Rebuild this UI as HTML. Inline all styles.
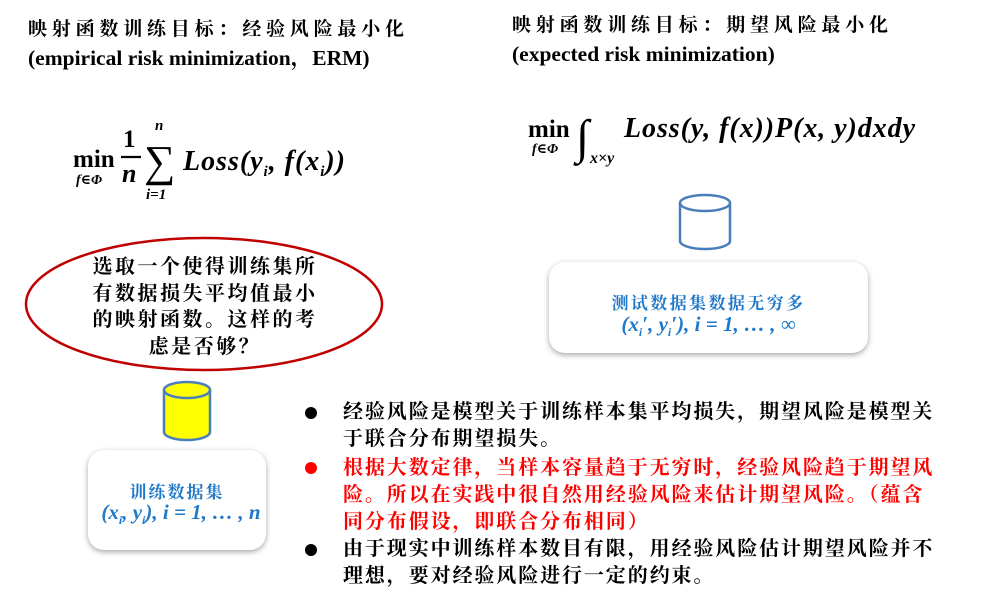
<!DOCTYPE html>
<html><head><meta charset="utf-8"><style>
body{margin:0;width:984px;height:611px;background:#fff;position:relative;overflow:hidden;font-family:"Liberation Serif","Noto Serif CJK SC",serif;}
.a{position:absolute;white-space:nowrap}
.t{font-weight:bold;font-size:19px;line-height:28px}
.cj{letter-spacing:4.8px}
.en{font-size:21.5px}
.m{font-family:"Liberation Serif","DejaVu Serif",serif;font-weight:bold;font-style:italic}
.box{position:absolute;background:#fff;border-radius:16px;box-shadow:0 2px 6px rgba(0,0,0,.35)}
.blue{color:#1f78c8;font-weight:bold;text-align:center}
.bl{position:absolute;left:343px;width:640px;font-size:20px;letter-spacing:1.9px;font-weight:bold;line-height:27px;font-family:"Liberation Sans","Noto Serif CJK SC",serif}
.dot{position:absolute;left:305px;width:12px;height:12px;border-radius:50%;background:#000}
</style></head><body>
<div class="a t" style="left:28px;top:16px"><span class="cj">映射函数训练目标：经验风险最小化</span><br><span class="en">(empirical risk minimization，ERM)</span></div>
<div class="a t" style="left:512px;top:12px"><span class="cj">映射函数训练目标：期望风险最小化</span><br><span class="en">(expected risk minimization)</span></div>

<svg class="a" style="left:0;top:0" width="984" height="611">
<g font-family="Liberation Serif,DejaVu Serif,serif" font-weight="bold">
<text x="73" y="167" font-size="25">min</text>
<text x="76" y="184" font-size="14" font-style="italic">f∈Φ</text>
<text x="123" y="147" font-size="25">1</text>
<line x1="121" y1="157" x2="141" y2="157" stroke="#000" stroke-width="2.2"/>
<text x="122" y="182" font-size="26" font-style="italic">n</text>
<text x="144" y="176" font-size="44" font-weight="normal">∑</text>
<text x="155" y="130" font-size="15" font-style="italic">n</text>
<text x="146" y="199" font-size="15" font-style="italic">i=1</text>
<text x="183" y="170" font-size="28" font-style="italic" textLength="162">Loss(y<tspan font-size="15" dy="6">i</tspan><tspan dy="-6">, f(x</tspan><tspan font-size="15" dy="6">i</tspan><tspan dy="-6">))</tspan></text>

<text x="528" y="137" font-size="25">min</text>
<text x="532" y="153" font-size="14" font-style="italic">f∈Φ</text>
<text x="576" y="153" font-size="48" font-weight="normal">∫</text>
<text x="590" y="163" font-size="16" font-style="italic">x×y</text>
<text x="624" y="137" font-size="28" font-style="italic" textLength="291">Loss(y, f(x))P(x, y)dxdy</text>
</g>
<ellipse cx="204" cy="304" rx="178" ry="66" fill="none" stroke="#c00000" stroke-width="2.5"/>
<path d="M164,390 v42 a23,8 0 0 0 46,0 v-42" fill="#ffff00" stroke="#4a7ebb" stroke-width="2.5"/>
<ellipse cx="187" cy="390" rx="23" ry="8" fill="#ffff00" stroke="#4a7ebb" stroke-width="2.5"/>
<path d="M680,203 v38 a25,8 0 0 0 50,0 v-38" fill="#fff" stroke="#4a7ebb" stroke-width="2.5"/>
<ellipse cx="705" cy="203" rx="25" ry="8" fill="#fff" stroke="#4a7ebb" stroke-width="2.5"/>
</svg>

<div class="a" style="left:80px;top:252px;width:250px;font-size:20px;letter-spacing:2.5px;font-weight:bold;line-height:26.5px;text-align:center;font-family:'Noto Serif CJK SC',serif">选取一个使得训练集所<br>有数据损失平均值最小<br>的映射函数。这样的考<br>虑是否够？</div>

<div class="box" style="left:88px;top:450px;width:178px;height:100px"></div>
<div class="a blue" style="left:88px;top:478px;width:178px;font-size:17px;letter-spacing:2px">训练数据集</div>
<div class="a blue m" style="left:92px;top:500px;width:178px;font-size:21px">(x<sub style="font-size:12px">i</sub>, y<sub style="font-size:12px">i</sub>), i = 1, … , n</div>

<div class="box" style="left:549px;top:262px;width:319px;height:91px"></div>
<div class="a blue" style="left:549px;top:289px;width:319px;font-size:17px;letter-spacing:2.4px">测试数据集数据无穷多</div>
<div class="a blue m" style="left:549px;top:312px;width:319px;font-size:21px">(x<sub style="font-size:12px">i</sub>′, y<sub style="font-size:12px">i</sub>′), i = 1, … , ∞</div>

<div class="dot" style="top:407px"></div>
<div class="bl" style="top:399px">经验风险是模型关于训练样本集平均损失，期望风险是模型关<br>于联合分布期望损失。</div>
<div class="dot" style="top:462px;background:#f00"></div>
<div class="bl" style="top:455px;color:#f00">根据大数定律，当样本容量趋于无穷时，经验风险趋于期望风<br>险。所以在实践中很自然用经验风险来估计期望风险。（蕴含<br>同分布假设，即联合分布相同）</div>
<div class="dot" style="top:544px"></div>
<div class="bl" style="top:536px">由于现实中训练样本数目有限，用经验风险估计期望风险并不<br>理想，要对经验风险进行一定的约束。</div>
</body></html>
